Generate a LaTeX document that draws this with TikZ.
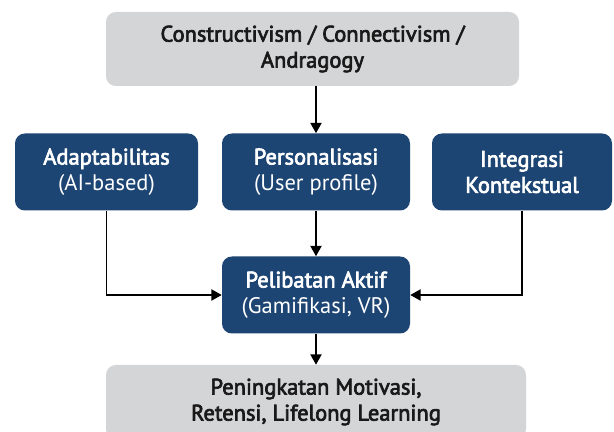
\documentclass[tikz,border=0pt]{standalone}
\usepackage{fontspec}
\setmainfont{PT Sans}[BoldFont={PT Sans}, BoldFeatures={FakeBold=3}]
\usepackage{xcolor}
\usetikzlibrary{arrows.meta, positioning}
\definecolor{navy}{RGB}{29,69,115}
\definecolor{lightgray}{RGB}{212,213,215}

\begin{document}
\begin{tikzpicture}[
    x=0.025cm, y=-0.025cm,
    base/.style={rectangle, rounded corners=7pt, align=center, inner sep=2pt,
        font=\fontsize{16}{18.5}\selectfont\bfseries},
    graybox/.style={base, fill=lightgray, text=black!90, minimum width=#1*0.025cm, minimum height=74*0.025cm},
    bluebox/.style={base, fill=navy, text=white, minimum width=#1*0.025cm, minimum height=77*0.025cm},
    arrow/.style={-{Triangle[length=2.6mm, width=2.8mm]}, line width=1.2pt, draw=black}
]
\useasboundingbox (0,0) rectangle (614,432);
% Main components
\node[graybox=413] (theory) at (312.5,49) {Constructivism / Connectivism /\\Andragogy};
\node[bluebox=183] (adapt) at (106.5,172) {Adaptabilitas\\{\mdseries(AI-based)}};
\node[bluebox=188] (person) at (316,172) {Personalisasi\\{\mdseries(User profile)}};
\node[bluebox=180] (integ) at (522,172) {Integrasi\\Kontekstual};
\node[bluebox=188] (aktif) at (316,295) {Pelibatan Aktif\\{\mdseries(Gamifikasi, VR)}};
\node[graybox=420] (outcome) at (316,402) {Peningkatan Motivasi,\\Retensi, Lifelong Learning};

% Arrows
\draw[arrow] (theory.south -| person) -- (person);
\draw[arrow] (person) -- (aktif);
\draw[arrow] (adapt) |- (aktif);
\draw[arrow] (integ) |- (aktif);
\draw[arrow] (aktif) -- (outcome);
\end{tikzpicture}
\end{document}
